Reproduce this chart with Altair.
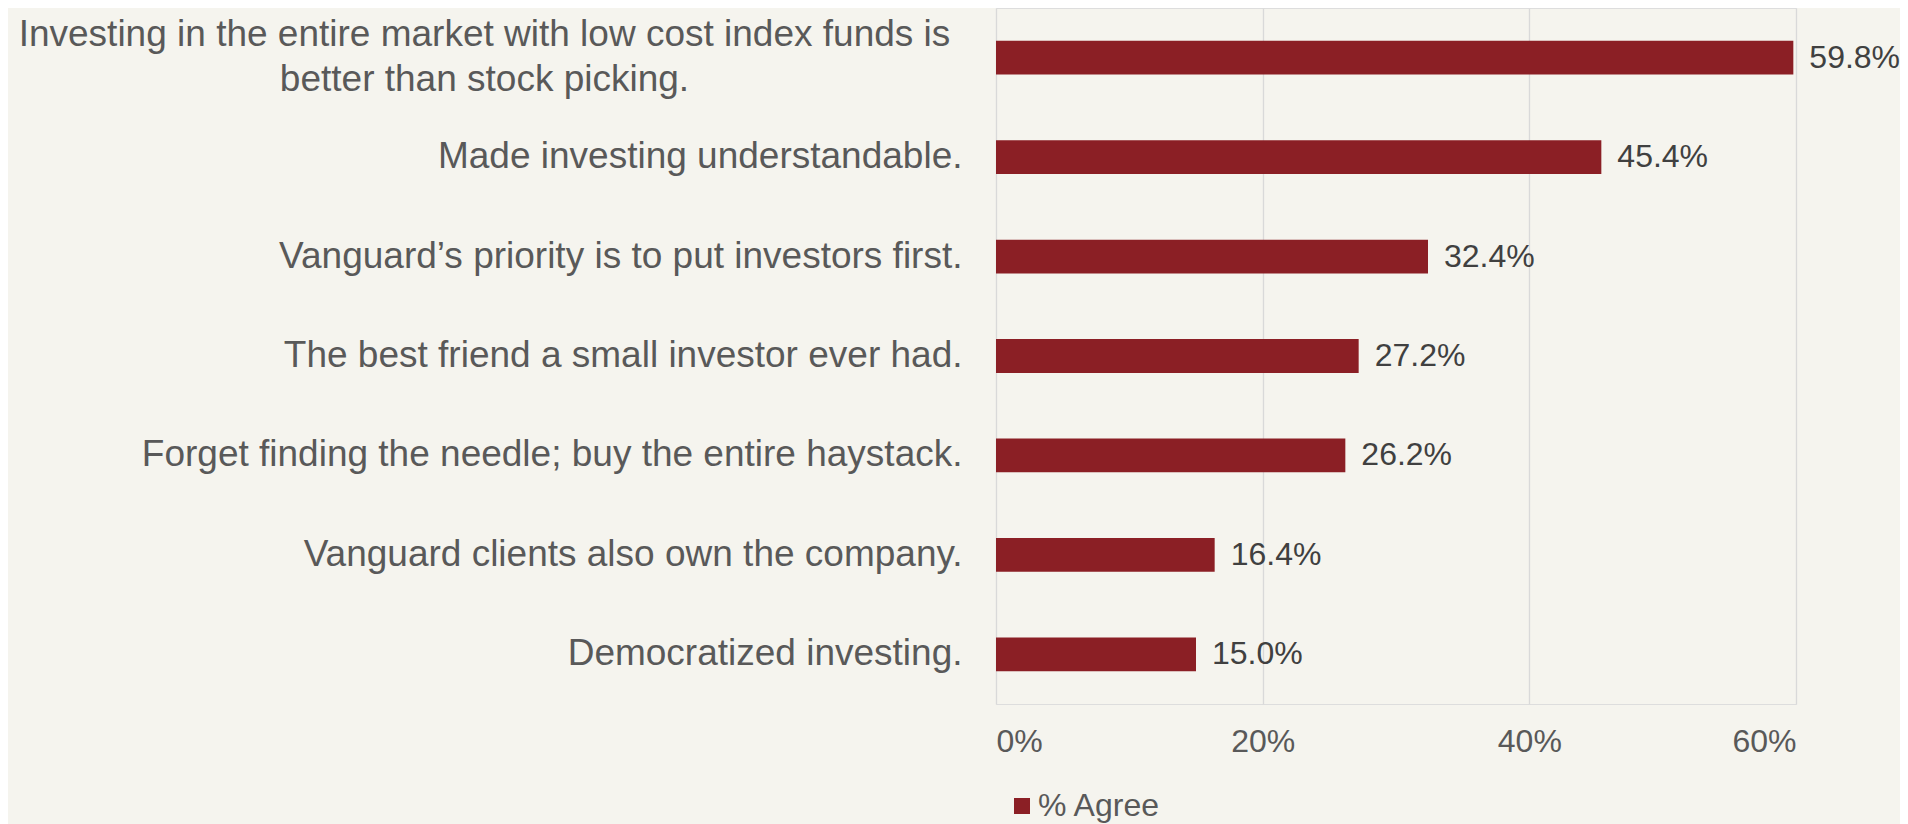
import altair as alt
import pandas as pd

categories = [
    "Investing in the entire market with low cost index funds is|better than stock picking.",
    "Made investing understandable.",
    "Vanguard’s priority is to put investors first.",
    "The best friend a small investor ever had.",
    "Forget finding the needle; buy the entire haystack.",
    "Vanguard clients also own the company.",
    "Democratized investing.",
]
agree = [0.598, 0.454, 0.324, 0.272, 0.262, 0.164, 0.150]
series_name = "% Agree"
x_ticks = [0, 0.2, 0.4, 0.6]

df = pd.DataFrame({"statement": categories, "agree": agree, "series": series_name})

BAR = "#8B1F25"
BG = "#F5F4EE"
FONT = "Liberation Sans"
multi = "indexof(datum.value, '|') >= 0"

y_enc = alt.Y(
    "statement:N",
    sort=categories,
    scale=alt.Scale(paddingInner=0.66, paddingOuter=0.33),
    axis=alt.Axis(
        title=None, domain=False, ticks=False,
        labelFontSize=37, labelColor="#595959", labelLimit=0,
        labelLineHeight=45, labelExpr="split(datum.label, '|')",
        labelAlign={"condition": {"test": multi, "value": "center"}, "value": "right"},
        labelPadding={"condition": {"test": multi, "value": 512}, "value": 34},
        labelOffset={"condition": {"test": multi, "value": -22.5}, "value": 0},
        labelBaseline="middle",
    ),
)

x_enc = alt.X(
    "agree:Q",
    scale=alt.Scale(domain=[0, 0.6], nice=False),
    axis=alt.Axis(
        title=None, values=x_ticks, format="%", grid=True,
        gridColor="#D9D9D9", gridWidth=1.3, domain=False, ticks=False,
        labelFontSize=32, labelColor="#595959", labelPadding=22,
    ),
)

bars = alt.Chart(df).mark_bar().encode(
    x=x_enc,
    y=y_enc,
    color=alt.Color(
        "series:N",
        scale=alt.Scale(domain=[series_name], range=[BAR]),
        legend=alt.Legend(
            title=None, orient="none", legendX=10, legendY=782,
            symbolType="square", symbolSize=256, symbolStrokeWidth=0,
            labelFontSize=32, labelColor="#595959", labelOffset=0, padding=0,
        ),
    ),
)

labels = alt.Chart(df).mark_text(
    align="left", baseline="middle", dx=16, fontSize=32, color="#404040", font=FONT
).encode(
    x="agree:Q",
    y=alt.Y("statement:N", sort=categories),
    text=alt.Text("agree:Q", format=".1%"),
)

chart = (
    alt.layer(bars, labels)
    .properties(
        width=800, height=696, background=BG,
        padding={"left": 988, "top": 0, "right": 104, "bottom": 125},
        autosize=alt.AutoSizeParams(type="none"),
    )
    .configure_view(stroke=None)
    .configure(font=FONT)
)

chart.save("out.html", embed_options={"renderer": "svg", "actions": False})
